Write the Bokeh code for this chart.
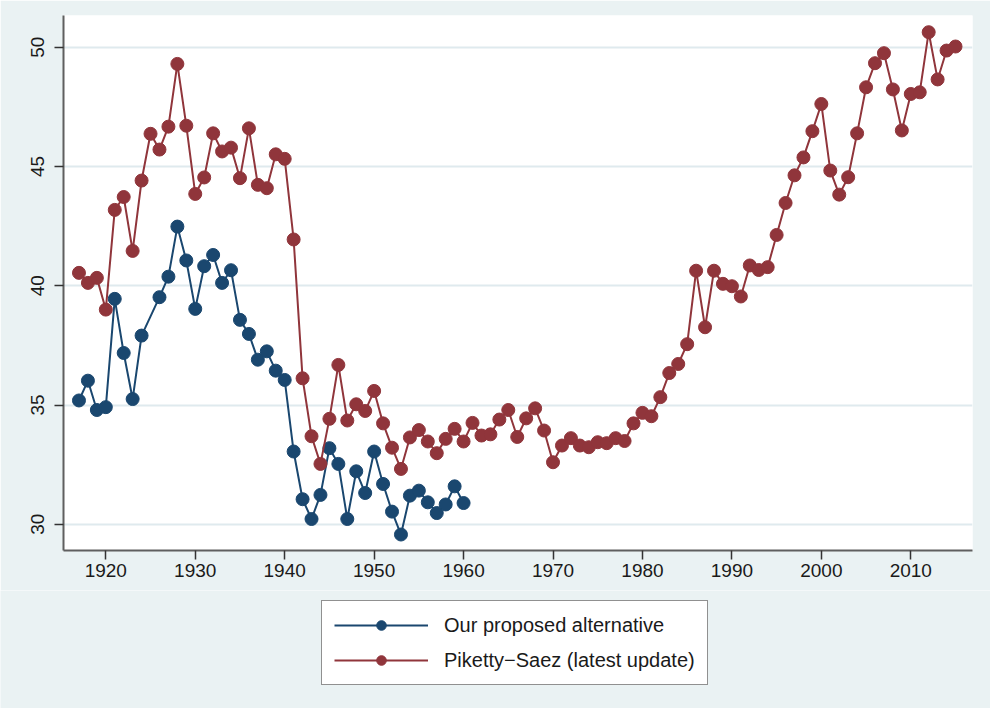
from bokeh.plotting import figure
from bokeh.layouts import column
from bokeh.models import Range1d, FixedTicker, Legend, LegendItem
from bokeh.embed import file_html
from bokeh.resources import INLINE

# ---- data ----
years_alt = [1917, 1918, 1919, 1920, 1921, 1922, 1923, 1924, 1926, 1927, 1928, 1929,
             1930, 1931, 1932, 1933, 1934, 1935, 1936, 1937, 1938, 1939, 1940, 1941,
             1942, 1943, 1944, 1945, 1946, 1947, 1948, 1949, 1950, 1951, 1952, 1953,
             1954, 1955, 1956, 1957, 1958, 1959, 1960]
alt_values = [35.19, 36.02, 34.79, 34.91, 39.45, 37.18, 35.25, 37.91, 39.52, 40.38, 42.48, 41.06,
              39.03, 40.82, 41.29, 40.12, 40.65, 38.57, 37.98, 36.90, 37.25, 36.44, 36.05, 33.05,
              31.05, 30.22, 31.23, 33.19, 32.53, 30.22, 32.22, 31.31, 33.05, 31.69, 30.53, 29.57,
              31.20, 31.41, 30.92, 30.47, 30.83, 31.59, 30.89]

years_ps = list(range(1917, 2016))
ps_values = [40.54, 40.12, 40.33, 39.00, 43.18, 43.72, 41.46, 44.41, 46.37, 45.71,
             46.67, 49.30, 46.71, 43.85, 44.54, 46.39, 45.63, 45.79, 44.51, 46.60,
             44.23, 44.09, 45.51, 45.32, 41.94, 36.12, 33.69, 32.53, 34.42, 36.68,
             34.35, 35.03, 34.75, 35.59, 34.23, 33.21, 32.32, 33.64, 33.95, 33.47,
             32.98, 33.58, 34.00, 33.47, 34.25, 33.72, 33.77, 34.39, 34.79, 33.66,
             34.44, 34.86, 33.93, 32.60, 33.30, 33.61, 33.30, 33.23, 33.44, 33.40,
             33.61, 33.49, 34.23, 34.67, 34.53, 35.33, 36.34, 36.72, 37.55, 40.63,
             38.26, 40.63, 40.08, 39.98, 39.55, 40.85, 40.66, 40.78, 42.13, 43.47,
             44.63, 45.38, 46.48, 47.62, 44.83, 43.82, 44.55, 46.39, 48.32, 49.33,
             49.75, 48.23, 46.51, 48.04, 48.11, 50.63, 48.65, 49.86, 50.03]

x_ticks = [1920, 1930, 1940, 1950, 1960, 1970, 1980, 1990, 2000, 2010]
y_ticks = [30, 35, 40, 45, 50]

label_alt = "Our proposed alternative"
label_ps = "Piketty\u2212Saez (latest update)"

BLUE = "#1A476F"
RED = "#90353B"
BG = "#EAF2F3"
FONT = "Liberation Sans"

p = figure(width=990, height=590, output_backend="svg", toolbar_location=None,
           x_range=Range1d(1915.27, 2016.9), y_range=Range1d(28.90, 51.33),
           min_border_left=63, min_border_right=18, min_border_top=15, min_border_bottom=40)

p.background_fill_color = "white"
p.border_fill_color = BG
p.outline_line_color = None

p.xgrid.grid_line_color = None
p.ygrid.grid_line_color = "#DFEAEE"
p.ygrid.grid_line_width = 2

for ax in (p.xaxis[0], p.yaxis[0]):
    ax.axis_line_color = "#5F5F5F"
    ax.axis_line_width = 2
    ax.major_tick_line_color = "#333333"
    ax.major_tick_line_width = 1.5
    ax.major_tick_out = 9
    ax.major_tick_in = 0
    ax.minor_tick_line_color = None
    ax.major_label_text_font = FONT
    ax.major_label_text_font_size = "19px"
    ax.major_label_text_color = "#1a1a1a"

p.xaxis.ticker = FixedTicker(ticks=x_ticks)
p.yaxis.ticker = FixedTicker(ticks=y_ticks)
p.xaxis.major_label_standoff = 4
p.yaxis.major_label_standoff = 10
p.yaxis.major_label_orientation = "vertical"

p.line(years_alt, alt_values, line_color=BLUE, line_width=2)
p.scatter(years_alt, alt_values, size=13, fill_color=BLUE, line_color=BLUE)
p.line(years_ps, ps_values, line_color=RED, line_width=2)
p.scatter(years_ps, ps_values, size=13, fill_color=RED, line_color=RED)

# legend strip below the plot (its ranges keep the series out of view;
# the renderers only provide the legend glyphs)
lf = figure(width=990, height=118, output_backend="svg", toolbar_location=None,
            x_range=Range1d(0, 1), y_range=Range1d(0, 1),
            x_axis_type=None, y_axis_type=None, min_border=0)
lf.frame_align = False
lf.background_fill_color = BG
lf.border_fill_color = BG
lf.outline_line_color = None
lf.grid.grid_line_color = None

g1 = lf.line(years_alt, alt_values, line_color=BLUE, line_width=2)
m1 = lf.scatter(years_alt, alt_values, size=13, fill_color=BLUE, line_color=BLUE)
g2 = lf.line(years_ps, ps_values, line_color=RED, line_width=2)
m2 = lf.scatter(years_ps, ps_values, size=13, fill_color=RED, line_color=RED)

legend = Legend(items=[LegendItem(label=label_alt, renderers=[g1, m1]),
                       LegendItem(label=label_ps, renderers=[g2, m2])],
                location=(321, 23), orientation="vertical")
legend.border_line_color = "#222222"
legend.border_line_width = 1.5
legend.background_fill_color = "white"
legend.background_fill_alpha = 1
legend.label_text_font = FONT
legend.label_text_font_size = "20px"
legend.label_text_color = "#1a1a1a"
legend.glyph_width = 94
legend.glyph_height = 24
legend.label_height = 24
legend.label_standoff = 16
legend.padding = 12
legend.spacing = 11
legend.margin = 0
lf.add_layout(legend, "center")

layout = column(p, lf, spacing=0)
html = file_html(layout, INLINE)
html = html.replace("<body>", '<body style="background:%s;">' % BG, 1)
open("out.html", "w").write(html)
